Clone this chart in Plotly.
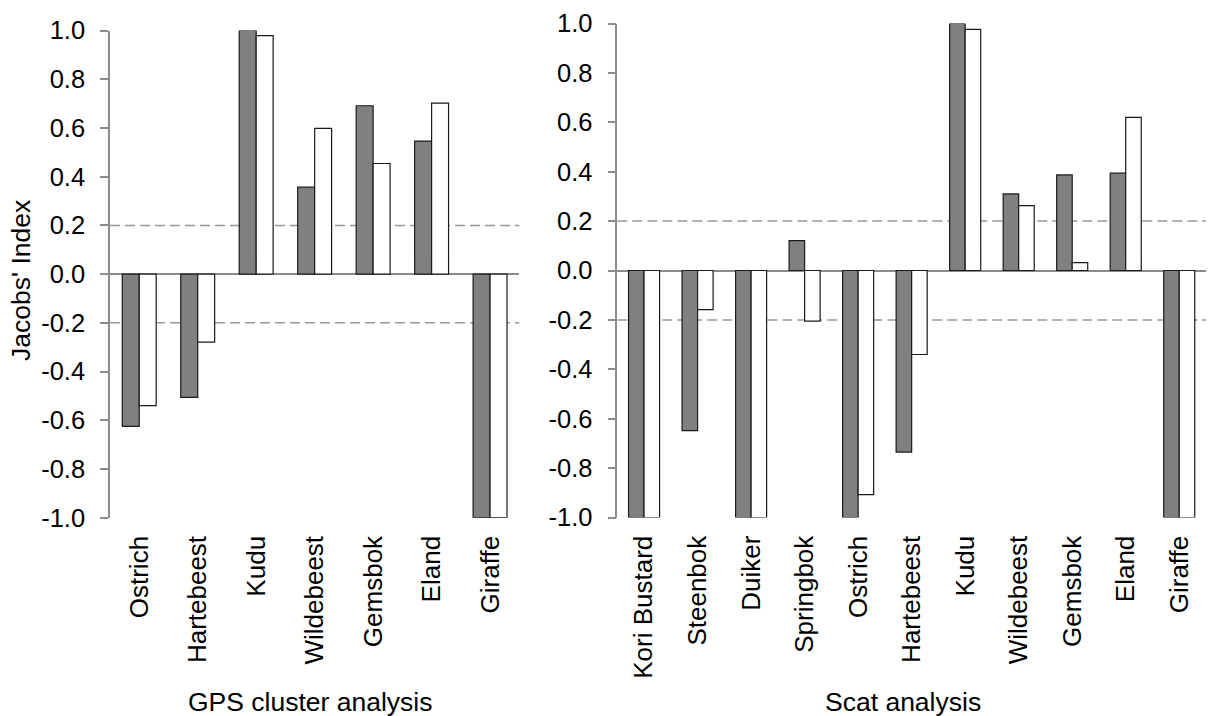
import plotly.graph_objects as go

# ---- data ----
gps_cats = ["Ostrich", "Hartebeest", "Kudu", "Wildebeest", "Gemsbok", "Eland", "Giraffe"]
gps_dark = [-0.625, -0.506, 1.0, 0.357, 0.691, 0.546, -1.0]
gps_white = [-0.54, -0.279, 0.979, 0.598, 0.454, 0.702, -1.0]

scat_cats = ["Kori Bustard", "Steenbok", "Duiker", "Springbok", "Ostrich", "Hartebeest",
             "Kudu", "Wildebeest", "Gemsbok", "Eland", "Giraffe"]
scat_dark = [-1.0, -0.648, -1.0, 0.121, -1.0, -0.735, 1.0, 0.31, 0.387, 0.394, -1.0]
scat_white = [-1.0, -0.158, -1.0, -0.205, -0.907, -0.34, 0.976, 0.263, 0.032, 0.62, -1.0]

y_tickvals = [1.0, 0.8, 0.6, 0.4, 0.2, 0.0, -0.2, -0.4, -0.6, -0.8, -1.0]
y_ticktext = ["1.0", "0.8", "0.6", "0.4", "0.2", "0.0", "-0.2", "-0.4", "-0.6", "-0.8", "-1.0"]
thresholds = [0.2, -0.2]

FONT = "Liberation Sans, Arial, sans-serif"
AX = "#8c8c8c"
DARK = "#808080"

fig = go.Figure()

def add_bars(cats, dark, white, xa, ya):
    fig.add_trace(go.Bar(x=cats, y=dark, xaxis=xa, yaxis=ya, name="Series 1",
                         marker=dict(color=DARK, line=dict(color="#1a1a1a", width=1.2))))
    fig.add_trace(go.Bar(x=cats, y=white, xaxis=xa, yaxis=ya, name="Series 2",
                         marker=dict(color="white", line=dict(color="#1a1a1a", width=1.2))))

add_bars(gps_cats, gps_dark, gps_white, "x", "y")
add_bars(scat_cats, scat_dark, scat_white, "x2", "y2")

left_x = [110 / 1208, 519.3 / 1208]
right_x = [617.3 / 1208, 1206 / 1208]
left_y = [1 - 517.7 / 716, 1 - 30.5 / 716]
right_y = [1 - 517.5 / 716, 1 - 23.5 / 716]

def yaxis(dom, anchor):
    return dict(domain=dom, anchor=anchor, range=[-1, 1], tickvals=y_tickvals, ticktext=y_ticktext,
                showline=True, linecolor=AX, linewidth=1.5, ticks="outside", ticklen=8,
                tickcolor=AX, tickwidth=1.5, showgrid=False, zeroline=True, zerolinecolor=AX,
                zerolinewidth=1.5, tickfont=dict(family=FONT, size=25.5, color="black"),
                ticklabelstandoff=10, automargin=False)

def xaxis(dom, anchor, n):
    return dict(domain=dom, anchor=anchor, type="category", range=[-0.5, n - 0.5],
                showline=False, ticks="", showgrid=False, zeroline=False, tickangle=-90,
                tickfont=dict(family=FONT, size=26, color="black"), ticklabelstandoff=12,
                automargin=False)

def tickaxis(over, n, pos):
    return dict(overlaying=over, anchor="free", position=pos, type="linear",
                range=[-0.5, n - 0.5], tickvals=[i - 0.5 for i in range(n + 1)],
                ticks="outside", ticklen=8, tickcolor=AX, tickwidth=1.5, showticklabels=False,
                showline=False, showgrid=False, zeroline=False, automargin=False)

fig.update_layout(
    width=1208, height=716, margin=dict(l=0, r=0, t=0, b=0, autoexpand=False),
    paper_bgcolor="white", plot_bgcolor="white", showlegend=False,
    barmode="group", bargap=0.42, bargroupgap=0,
    font=dict(family=FONT, size=25, color="black"),
    xaxis=xaxis(left_x, "y", len(gps_cats)),
    yaxis=yaxis(left_y, "x"),
    xaxis2=xaxis(right_x, "y2", len(scat_cats)),
    yaxis2=yaxis(right_y, "x2"),
    xaxis3=tickaxis("x", len(gps_cats), sum(left_y) / 2),
    xaxis4=tickaxis("x2", len(scat_cats), sum(right_y) / 2),
)

for xr, yr in (("x", "y"), ("x2", "y2")):
    for t in thresholds:
        fig.add_shape(type="line", xref=f"{xr} domain", yref=yr, x0=0, x1=1, y0=t, y1=t,
                      line=dict(color="#999999", width=1.5, dash="10px,5px"), layer="below")

fig.add_annotation(text="Jacobs' Index", xref="paper", yref="paper", x=21 / 1208, y=1 - 281 / 716,
                   textangle=-90, showarrow=False, xanchor="center", yanchor="middle",
                   font=dict(family=FONT, size=26.5, color="black"))
fig.add_annotation(text="GPS cluster analysis", xref="paper", yref="paper", x=310 / 1208,
                   y=1 - 701.7 / 716, showarrow=False, xanchor="center", yanchor="middle",
                   font=dict(family=FONT, size=26.5, color="black"))
fig.add_annotation(text="Scat analysis", xref="paper", yref="paper", x=903 / 1208,
                   y=1 - 701.7 / 716, showarrow=False, xanchor="center", yanchor="middle",
                   font=dict(family=FONT, size=26.5, color="black"))

fig.write_html("out.html")
